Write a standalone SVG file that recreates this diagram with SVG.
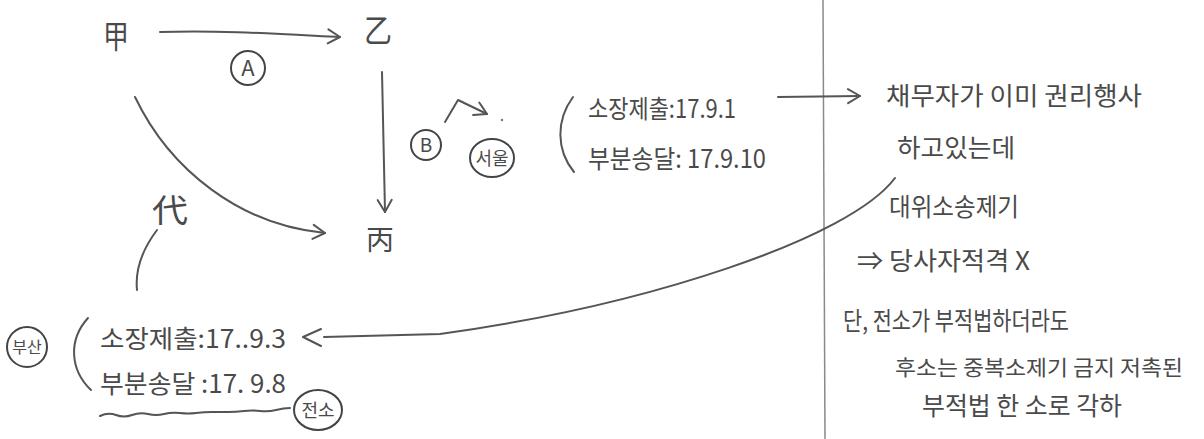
<svg xmlns="http://www.w3.org/2000/svg" width="1204" height="439" viewBox="0 0 1204 439">
<style>
  text { font-family: "Noto Sans CJK KR", "Noto Sans CJK SC", sans-serif; fill: #4a4a4a; }
  .ln { fill: none; stroke: #555; stroke-width: 2; stroke-linecap: round; stroke-linejoin: round; }
  .ring { fill: none; stroke: #444; stroke-width: 2; }
  .big { font-size: 32px; }
  .t { font-size: 25px; }
  .s { font-size: 18px; }
</style>
<defs>
  <marker id="arr" viewBox="-14 -10 16 20" refX="0" refY="0" markerWidth="16" markerHeight="20" markerUnits="userSpaceOnUse" orient="auto">
    <path d="M-12,-7 L0,0 L-12,7" fill="none" stroke="#555" stroke-width="2" stroke-linecap="round" stroke-linejoin="round"/>
  </marker>
</defs>
<rect width="1204" height="439" fill="#ffffff"/>

<g id="divider">
  <path d="M823,0 L825,439" fill="none" stroke="#8a8a8a" stroke-width="1.5"/>
</g>

<g id="connectors">
  <path class="ln" d="M160,32 C220,30 280,34 340,37" marker-end="url(#arr)"/>
  <path class="ln" d="M382,72 L385,212" marker-end="url(#arr)"/>
  <path class="ln" d="M135,97 C170,170 240,225 325,233" marker-end="url(#arr)"/>
  <path class="ln" d="M157,230 C142,250 135,270 137,290"/>
  <path class="ln" d="M445,122 L458,100 L487,114" marker-end="url(#arr)"/>
  <circle cx="502" cy="120" r="1.2" fill="#777"/>
  <path class="ln" d="M778,97 L860,96" marker-end="url(#arr)"/>
  <path class="ln" d="M895,178 C850,238 650,305 440,334 L324,337"/>
  <path class="ln" d="M321,329 L303,337 L321,346"/>
  <path class="ln" d="M573,97 C556,120 556,150 574,172"/>
  <path class="ln" d="M88,318 C68,340 70,370 91,390"/>
  <path class="ln" d="M100,416 q8,-4 16,-1 t16,0 t16,-1 t16,0 t16,-1 t16,0 t16,-1 t16,0 t16,-1 t16,0 t16,-1 t14,-2"/>
</g>

<g id="gap"><text class="big" x="103" y="48" textLength="26" lengthAdjust="spacingAndGlyphs">甲</text></g>
<g id="eul"><text class="big" x="364" y="42" textLength="28" lengthAdjust="spacingAndGlyphs">乙</text></g>
<g id="byeong"><text x="366" y="250" style="font-size:28px" textLength="28" lengthAdjust="spacingAndGlyphs">丙</text></g>
<g id="dae"><text class="big" x="152" y="222" textLength="36" lengthAdjust="spacingAndGlyphs">代</text></g>

<g id="labelA">
  <circle class="ring" cx="248" cy="68" r="17"/>
  <text x="248" y="76" text-anchor="middle" style="font-size:22px">A</text>
</g>
<g id="labelB">
  <circle class="ring" cx="426" cy="145" r="15"/>
  <text x="426" y="152" text-anchor="middle" style="font-size:19px">B</text>
</g>
<g id="seoul">
  <ellipse class="ring" cx="492" cy="158" rx="22" ry="19"/>
  <text class="s" x="492" y="165" text-anchor="middle">서울</text>
</g>

<g id="seoul-dates">
  <text class="t" x="588" y="118" textLength="148" lengthAdjust="spacingAndGlyphs">소장제출:17.9.1</text>
  <text class="t" x="588" y="168" textLength="178" lengthAdjust="spacingAndGlyphs">부분송달: 17.9.10</text>
</g>

<g id="busan">
  <circle class="ring" cx="27" cy="347" r="20"/>
  <text x="27" y="353" text-anchor="middle" style="font-size:16px">부산</text>
</g>
<g id="busan-dates">
  <text class="t" x="100" y="348" textLength="186" lengthAdjust="spacingAndGlyphs">소장제출:17..9.3</text>
  <text class="t" x="100" y="393" textLength="186" lengthAdjust="spacingAndGlyphs">부분송달 :17. 9.8</text>
</g>
<g id="jeonso">
  <ellipse class="ring" cx="318" cy="410" rx="24" ry="20"/>
  <text class="s" x="318" y="417" text-anchor="middle">전소</text>
</g>

<g id="note1">
  <text class="t" x="886" y="105" textLength="256" lengthAdjust="spacingAndGlyphs">채무자가 이미 권리행사</text>
  <text class="t" x="897" y="157" textLength="118" lengthAdjust="spacingAndGlyphs">하고있는데</text>
  <text class="t" x="889" y="216" textLength="130" lengthAdjust="spacingAndGlyphs">대위소송제기</text>
  <text class="t" x="857" y="270" textLength="173" lengthAdjust="spacingAndGlyphs">⇒ 당사자적격 X</text>
</g>

<g id="note2">
  <text class="t" x="843" y="330" textLength="226" lengthAdjust="spacingAndGlyphs">단, 전소가 부적법하더라도</text>
  <text x="895" y="375" style="font-size:21px" textLength="288" lengthAdjust="spacingAndGlyphs">후소는  중복소제기 금지 저촉된</text>
  <text class="t" x="922" y="415" textLength="200" lengthAdjust="spacingAndGlyphs">부적법 한 소로 각하</text>
</g>
</svg>
